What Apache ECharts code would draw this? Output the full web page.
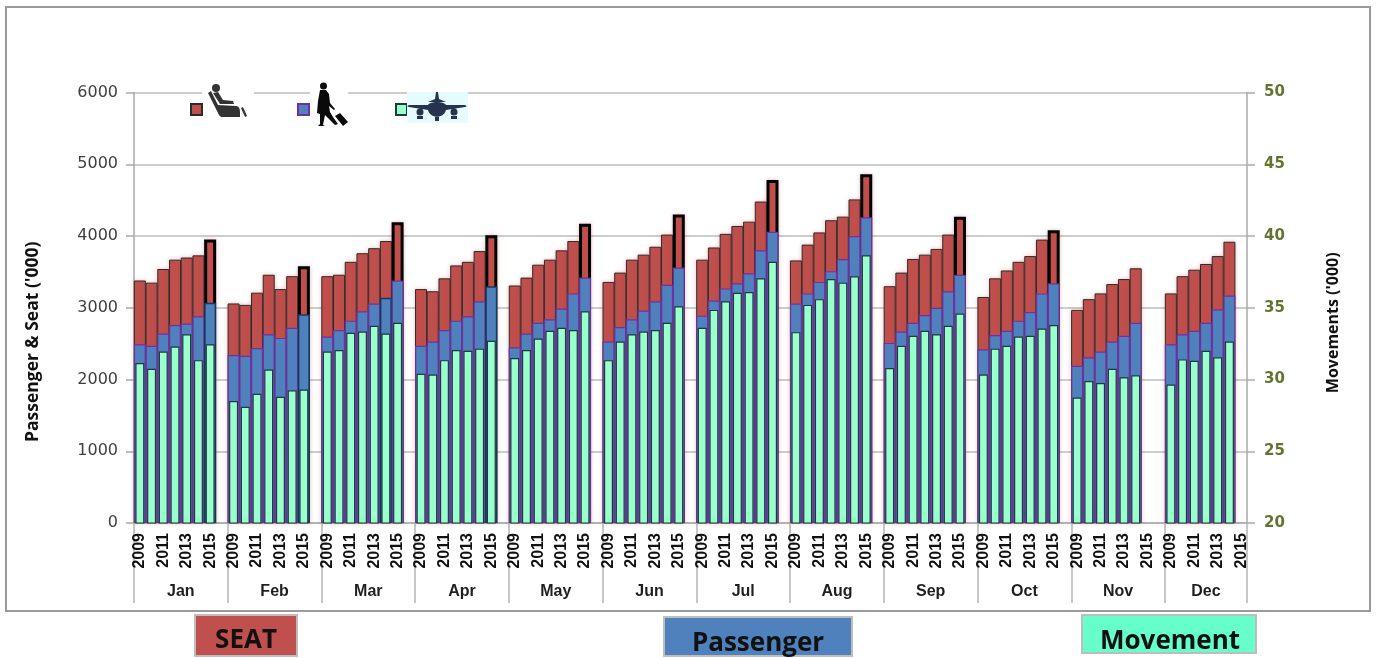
<!DOCTYPE html>
<html>
<head>
<meta charset="utf-8">
<title>Seat, passenger and movement by month</title>
<style>
    html, body { margin: 0; padding: 0; background: #fff; }
    #chart { width: 1377px; height: 658px; }
</style>
<script src="https://cdn.jsdelivr.net/npm/echarts@6/dist/echarts.min.js"></script>
</head>
<body>
<div id="chart"></div>
<script>
var months = ['Jan', 'Feb', 'Mar', 'Apr', 'May', 'Jun', 'Jul', 'Aug', 'Sep', 'Oct', 'Nov', 'Dec'];
var years = ['2009', '2010', '2011', '2012', '2013', '2014', '2015'];

// '000, one row per month, 2009..2015
var seat = [
    [3380, 3350, 3540, 3670, 3700, 3730, 3950],
    [3060, 3040, 3210, 3460, 3260, 3440, 3580],
    [3440, 3460, 3640, 3760, 3830, 3930, 4190],
    [3260, 3230, 3410, 3590, 3640, 3790, 4010],
    [3310, 3420, 3600, 3670, 3800, 3930, 4170],
    [3360, 3490, 3670, 3740, 3850, 4020, 4300],
    [3670, 3840, 4030, 4140, 4200, 4480, 4780],
    [3660, 3880, 4050, 4220, 4270, 4510, 4860],
    [3300, 3490, 3680, 3740, 3820, 4020, 4270],
    [3150, 3410, 3520, 3640, 3720, 3950, 4080],
    [2970, 3120, 3200, 3330, 3400, 3550, null],
    [3200, 3440, 3530, 3610, 3720, 3920, null]
];

var passenger = [
    [2490, 2470, 2640, 2760, 2780, 2880, 3070],
    [2340, 2330, 2440, 2630, 2580, 2720, 2910],
    [2600, 2690, 2820, 2950, 3060, 3140, 3380],
    [2470, 2530, 2690, 2820, 2880, 3090, 3300],
    [2450, 2640, 2790, 2840, 2990, 3200, 3420],
    [2530, 2730, 2840, 2960, 3090, 3320, 3560],
    [2890, 3100, 3270, 3340, 3480, 3800, 4060],
    [3060, 3200, 3360, 3510, 3680, 4000, 4260],
    [2510, 2670, 2790, 2900, 3000, 3230, 3460],
    [2420, 2620, 2680, 2820, 2940, 3200, 3340],
    [2190, 2310, 2390, 2530, 2610, 2790, null],
    [2490, 2630, 2680, 2790, 2980, 3170, null]
];

// right axis, '000
var movement = [
    [31.15, 30.75, 31.95, 32.3, 33.15, 31.35, 32.45],
    [28.5, 28.1, 29, 30.7, 28.8, 29.25, 29.3],
    [31.95, 32.05, 33.25, 33.35, 33.75, 33.2, 33.95],
    [30.4, 30.35, 31.35, 32.05, 32, 32.15, 32.7],
    [31.5, 32.05, 32.85, 33.4, 33.6, 33.45, 34.75],
    [31.35, 32.65, 33.15, 33.35, 33.45, 33.95, 35.1],
    [33.6, 34.85, 35.45, 36.05, 36.1, 37.05, 38.2],
    [33.3, 35.2, 35.6, 37, 36.75, 37.2, 38.65],
    [30.8, 32.35, 33.05, 33.4, 33.15, 33.75, 34.6],
    [30.35, 32.15, 32.35, 33, 33.05, 33.55, 33.8],
    [28.75, 29.9, 29.75, 30.75, 30.15, 30.3, null],
    [29.65, 31.4, 31.3, 32, 31.55, 32.65, null]
];

// every month has a blank slot after 2015, except the last one
function flatten(rows, wrap) {
    var out = [];
    for (var i = 0; i < rows.length; i++) {
        for (var j = 0; j < rows[i].length; j++) {
            out.push(wrap ? wrap(rows[i][j], i, j) : rows[i][j]);
        }
        if (i < rows.length - 1) {
            out.push(wrap ? wrap(null, i, 7) : null);
        }
    }
    return out;
}

var yearCats = flatten(months.map(function() { return years; }), function(v, i, j) {
    return v === null ? ' ' : years[j];
});
var slotCount = yearCats.length;

var monthTicks = [0];
var monthCentres = [];
for (var m = 0; m < months.length; m++) {
    var start = monthTicks[m];
    var end = m < months.length - 1 ? start + 8 : start + 7;
    monthTicks.push(end);
    monthCentres.push((start + end) / 2);
}

// the last bar of the year series has the heavy black outline
var seatData = flatten(seat, function(v, i, j) {
    if (v !== null && j === 6) {
        return { value: v, itemStyle: { borderColor: '#000', borderWidth: 3 } };
    }
    return v;
});

var darkPassenger = { '0-6': 1, '1-6': 1, '2-5': 1, '3-6': 1 };
var passengerData = flatten(passenger, function(v, i, j) {
    if (v !== null && darkPassenger[i + '-' + j]) {
        return { value: v, itemStyle: { borderColor: '#17375e', borderWidth: 1.5 } };
    }
    return v;
});

echarts.graphic.registerShape('seatIcon', echarts.graphic.extendPath(
    'M12 4a4 4 0 1 1-8 0 4 4 0 1 1 8 0z' +
    'M0 9L3 7L10 21L28 22C31 22 32 25 32 28L32 33L13 33L11 31z' +
    'M5 9L10 8L15 16L25 17L26 20L12 20z' +
    'M33 24L35 23L39 32L37 33z', {}));
echarts.graphic.registerShape('walkerIcon', echarts.graphic.extendPath(
    'M12 5a3.5 3.5 0 1 1-7 0 3.5 3.5 0 1 1 7 0z' +
    'M5 9L11 9L14 13L15 22L20 28L19 29L14 25L15 31L18 36L23 43L20 44L13 37L10 34L8 44L10 45L3 45L5 43L5 33L2 32L3 20z' +
    'M20 35L25 32L33 41L28 45z', {}));
echarts.graphic.registerShape('planeIcon', echarts.graphic.extendPath(
    'M29 0L31 0L32 7L39 10L21 10L28 7z' +
    'M21 13C23 9 37 9 39 13L58 13C60 14 60 15 58 15L39 18C37 27 23 27 21 18L2 15C0 15 0 14 2 13z' +
    'M9.5 20a3.5 3.5 0 1 1 7 0 3.5 3.5 0 1 1-7 0z' +
    'M43.5 20a3.5 3.5 0 1 1 7 0 3.5 3.5 0 1 1-7 0z' +
    'M10 24L16 24L16 27L10 27zM44 24L50 24L50 27L44 27zM28 25L32 25L32 29L28 29z', {}));

var chart = echarts.init(document.getElementById('chart'));

function noText() {
    return '';
}

var option = {
    animation: false,
    backgroundColor: '#fff',
    grid: { left: 134, right: 130, top: 92.5, height: 430.5 },
    legend: [
        { left: 190, top: 103, padding: 0, icon: 'rect', itemWidth: 11, itemHeight: 11, data: ['SEAT'], formatter: noText, selectedMode: false },
        { left: 297, top: 103, padding: 0, icon: 'rect', itemWidth: 11, itemHeight: 11, data: ['Passenger'], formatter: noText, selectedMode: false },
        { left: 395, top: 103, padding: 0, icon: 'rect', itemWidth: 11, itemHeight: 11, data: ['Movement'], formatter: noText, selectedMode: false }
    ],
    xAxis: [
        {
            type: 'category',
            data: yearCats,
            axisLine: { lineStyle: { color: '#aaa', width: 1.5 } },
            axisTick: { interval: 0, length: 45, lineStyle: { color: '#b5b5b5', width: 1 } },
            axisLabel: {
                rotate: 90,
                margin: 10,
                interval: function(index, value) {
                    return value === '2009' || value === '2011' || value === '2013' || value === '2015';
                },
                fontFamily: '"Liberation Sans"',
                fontWeight: 'bold',
                fontSize: 16,
                color: '#111'
            }
        },
        {
            // month brackets under the years
            type: 'value',
            min: 0,
            max: slotCount,
            position: 'bottom',
            splitLine: { show: false },
            axisLine: { show: false },
            axisTick: { length: 80, customValues: monthTicks, lineStyle: { color: '#b5b5b5', width: 1.5 } },
            axisLabel: {
                margin: 61,
                customValues: monthCentres,
                formatter: function(value) {
                    return months[monthCentres.indexOf(value)];
                },
                fontFamily: '"Liberation Sans"',
                fontWeight: 'bold',
                fontSize: 16,
                color: '#1f1f1f'
            }
        },
        {
            // movement bars are narrower, so they get their own hidden axis
            type: 'category',
            data: yearCats,
            show: false
        }
    ],
    yAxis: [
        {
            type: 'value',
            min: 0,
            max: 6000,
            interval: 1000,
            name: "Passenger & Seat ('000)",
            nameLocation: 'middle',
            nameGap: 92,
            nameRotate: 90,
            nameTextStyle: { fontFamily: '"Open Sans"', fontWeight: 'bold', fontSize: 17.5, color: '#111', padding: [0, 68, 0, 0] },
            axisLine: { show: true, lineStyle: { color: '#aaa', width: 1.5 } },
            axisTick: { show: true, length: 8, lineStyle: { color: '#aaa', width: 1.5 } },
            axisLabel: {
                margin: 16,
                padding: [3, 0, 0, 0],
                formatter: function(value) {
                    return String(value);
                },
                fontFamily: '"DejaVu Sans"',
                fontSize: 16,
                color: '#404040'
            },
            splitLine: { show: true, lineStyle: { color: '#bdbdbd', width: 1.5 } }
        },
        {
            type: 'value',
            min: 20,
            max: 50,
            interval: 5,
            name: "Movements ('000)",
            nameLocation: 'middle',
            nameGap: 78,
            nameRotate: 90,
            nameTextStyle: { fontFamily: '"Open Sans"', fontWeight: 'bold', fontSize: 16, color: '#111', padding: [0, 30, 0, 0] },
            axisLine: { show: true, lineStyle: { color: '#aaa', width: 1.5 } },
            axisTick: { show: true, length: 8, lineStyle: { color: '#aaa', width: 1.5 } },
            axisLabel: { margin: 17, padding: [3, 0, 0, 0], fontFamily: '"DejaVu Sans"', fontWeight: 'bold', fontSize: 15, color: '#5f7530' },
            splitLine: { show: false }
        }
    ],
    series: [
        {
            name: 'SEAT',
            type: 'bar',
            xAxisIndex: 0,
            yAxisIndex: 0,
            barWidth: 12,
            barGap: '-100%',
            data: seatData,
            z: 2,
            itemStyle: { color: '#c0504d', borderColor: '#2b2b2b', borderWidth: 1, shadowColor: 'rgba(192,80,77,0.3)', shadowBlur: 4 }
        },
        {
            name: 'Passenger',
            type: 'bar',
            xAxisIndex: 0,
            yAxisIndex: 0,
            barWidth: 12,
            barGap: '-100%',
            data: passengerData,
            z: 3,
            itemStyle: { color: '#4f81bd', borderColor: '#7030a0', borderWidth: 1.2 }
        },
        {
            name: 'Movement',
            type: 'bar',
            xAxisIndex: 2,
            yAxisIndex: 1,
            barWidth: 9,
            data: flatten(movement),
            z: 4,
            itemStyle: { color: '#99ffcc', borderColor: '#1d3b3b', borderWidth: 1.2 }
        }
    ],
    graphic: [
        // outer frame
        { type: 'rect', shape: { x: 6, y: 7, width: 1364, height: 604 }, style: { fill: 'none', stroke: '#9a9a9a', lineWidth: 2 }, silent: true },

        // icons over the top gridline
        { type: 'rect', z: 10, shape: { x: 202, y: 80, width: 52, height: 23 }, style: { fill: '#fff' }, silent: true },
        { type: 'rect', z: 10, shape: { x: 310, y: 80, width: 38, height: 23 }, style: { fill: '#fff' }, silent: true },
        { type: 'rect', z: 10, shape: { x: 407, y: 92, width: 61, height: 31 }, style: { fill: '#e6fbff' }, silent: true },
        { type: 'seatIcon', z: 11, x: 208, y: 84, style: { fill: '#333' }, silent: true },
        { type: 'walkerIcon', z: 11, x: 315, y: 81, style: { fill: '#0a0a0a' }, silent: true },
        { type: 'planeIcon', z: 11, x: 407, y: 92, style: { fill: '#26334d' }, silent: true },

        // boxes below the frame
        { type: 'rect', shape: { x: 195, y: 615, width: 102, height: 41 }, style: { fill: '#c0504d', stroke: '#bdbdbd', lineWidth: 2 }, silent: true },
        { type: 'text', style: { x: 246, y: 641, text: 'SEAT', align: 'center', verticalAlign: 'middle', font: 'bold 26px "Open Sans"', fill: '#111' }, silent: true },
        { type: 'rect', shape: { x: 664, y: 617, width: 188, height: 39 }, style: { fill: '#4f81bd', stroke: '#bdbdbd', lineWidth: 2 }, silent: true },
        { type: 'text', style: { x: 758, y: 644, text: 'Passenger', align: 'center', verticalAlign: 'middle', font: 'bold 26px "Open Sans"', fill: '#111' }, silent: true },
        { type: 'rect', shape: { x: 1082, y: 615, width: 174, height: 38 }, style: { fill: '#66ffcc', stroke: '#bdbdbd', lineWidth: 2 }, silent: true },
        { type: 'text', style: { x: 1170, y: 642, text: 'Movement', align: 'center', verticalAlign: 'middle', font: 'bold 26px "Open Sans"', fill: '#111' }, silent: true }
    ]
};

chart.setOption(option);
</script>
</body>
</html>
